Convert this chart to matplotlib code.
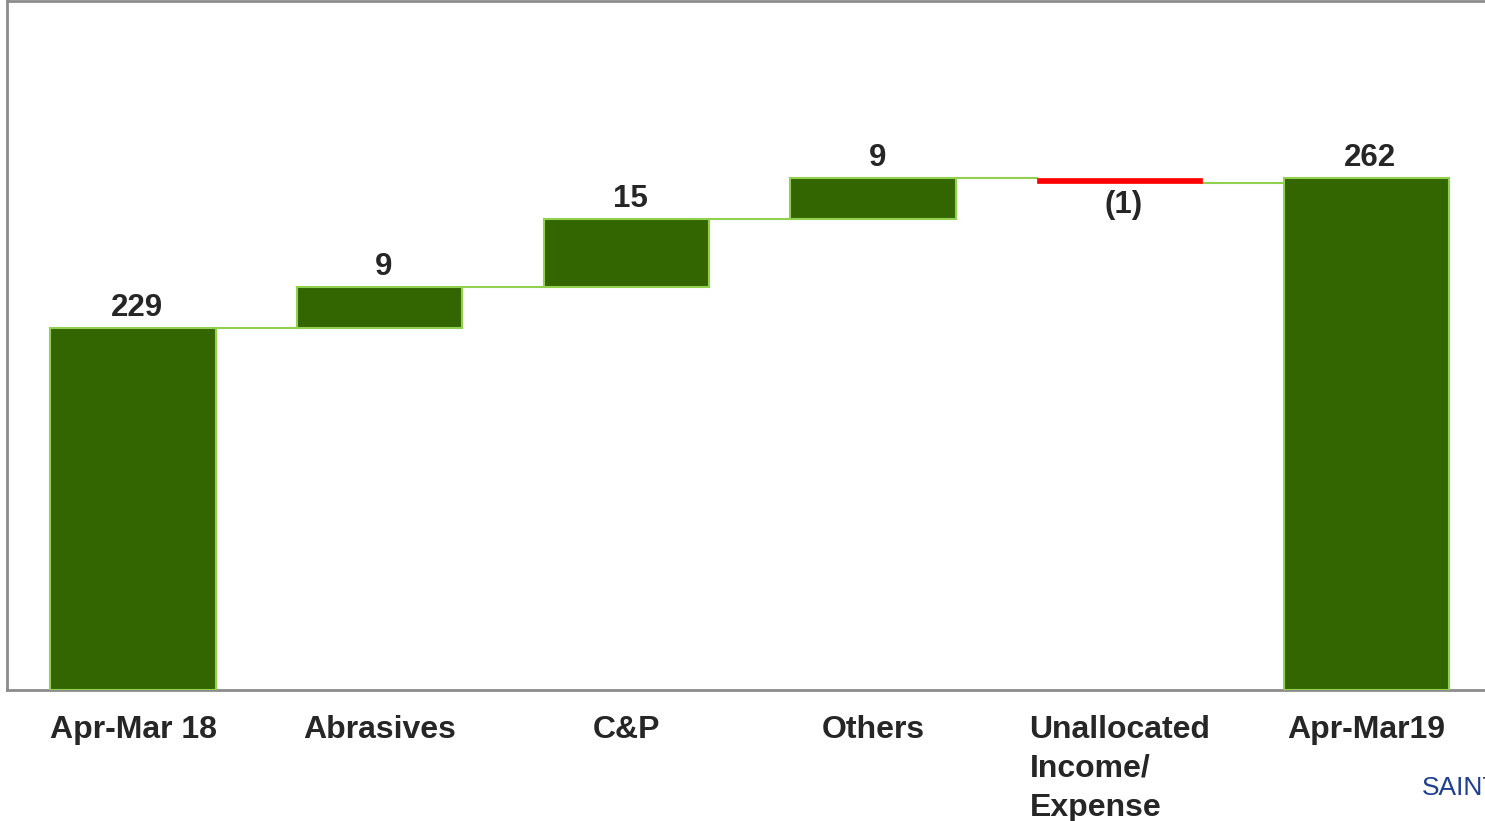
import matplotlib.pyplot as plt
import numpy as np

# waterfall data
categories = ["Apr-Mar 18", "Abrasives", "C&P", "Others", "Unallocated\nIncome/\nExpense", "Apr-Mar19"]
changes = [229, 9, 15, 9, -1, 262]
labels = ["229", "9", "15", "9", "(1)", "262"]
is_total = [True, False, False, False, False, True]

dark_green = "#336600"
light_green = "#92d050"
txt = "#262626"

fig = plt.figure(figsize=(14.85, 8.21), dpi=100)
ax = fig.add_axes([7/1485, 131/821, 1.0, 689/821])

y0 = 149.4
running = 0
bottoms, tops = [], []
for i, v in enumerate(changes):
    if is_total[i]:
        b, t = y0, v
        running = v
    else:
        b, t = running, running + v
        running = t
    bottoms.append(min(b, t))
    tops.append(max(b, t))

x = np.arange(len(categories))
w = 0.67
for i in range(len(categories)):
    if changes[i] < 0:
        ax.bar(x[i], tops[i] - bottoms[i], bottom=bottoms[i], width=w,
               color="#ff0000", edgecolor="#ff0000", linewidth=0.5, zorder=3)
    else:
        ax.bar(x[i], tops[i] - bottoms[i], bottom=bottoms[i], width=w,
               color=dark_green, edgecolor=light_green, linewidth=1.5, zorder=3)

# connectors
ends = []
running = 0
for i, v in enumerate(changes):
    running = v if is_total[i] else running + v
    ends.append(running)
for i in range(len(categories) - 1):
    ax.plot([x[i] + w/2, x[i+1] - w/2], [ends[i], ends[i]], color=light_green, lw=1.5, zorder=2)

# value labels
for i in range(len(categories)):
    if changes[i] < 0:
        ax.annotate(labels[i], (x[i], bottoms[i]), xytext=(3, -5), textcoords="offset points",
                    ha="center", va="top", fontsize=22.5, fontweight="bold", color=txt,
                    family="Liberation Sans")
    else:
        ax.annotate(labels[i], (x[i], tops[i]), xytext=(3, 4), textcoords="offset points",
                    ha="center", va="bottom", fontsize=22.5, fontweight="bold", color=txt,
                    family="Liberation Sans")

# category labels
for i, c in enumerate(categories):
    if "\n" in c:
        ax.text(x[i] - w/2 - 0.03, y0 - 5.4, c, ha="left", va="top", fontsize=23,
                fontweight="bold", color=txt, family="Liberation Sans", linespacing=1.4)
    else:
        ax.text(x[i], y0 - 5.4, c, ha="center", va="top", fontsize=23,
                fontweight="bold", color=txt, family="Liberation Sans")

ax.set_xlim(-0.511, 5.51)
ax.set_ylim(y0, 301)
ax.set_xticks([])
ax.set_yticks([])
for s in ["left", "top", "bottom"]:
    ax.spines[s].set_color("#8c8c8c")
    ax.spines[s].set_linewidth(2)
ax.spines["right"].set_visible(False)

# logo fragment at bottom right (cut off by the edge, as in the source)
fig.text(1422/1485, 1 - 788/821, "SAINT", color="#1f3f8f", fontsize=19,
         family="Liberation Sans", va="center", ha="left")

fig.savefig("out.png", dpi=100)
